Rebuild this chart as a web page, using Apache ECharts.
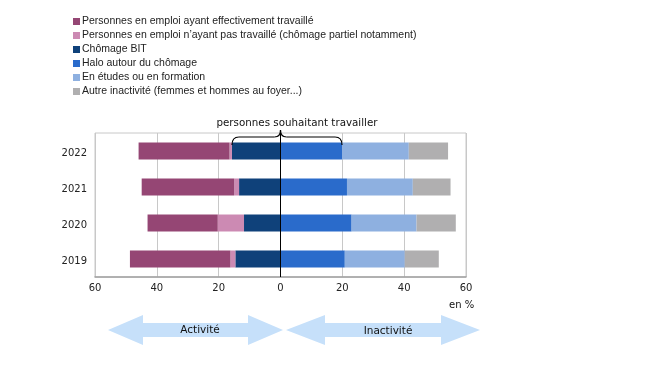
<!DOCTYPE html>
<html><head><meta charset="utf-8">
<script src="https://cdn.jsdelivr.net/npm/echarts@6/dist/echarts.min.js"></script>
<style>html,body{margin:0;padding:0;background:#fff}#c{width:650px;height:365px}</style>
</head><body><div id="c"></div>
<script>
const years = ['2019','2020','2021','2022'];
const travailles = [32.5, 22.7, 29.9, 29.4];
const nonTravailles = [1.6, 8.5, 1.6, 0.8];
const chomageBIT = [14.6, 11.8, 13.4, 15.7];
const halo = [20.8, 23.0, 21.5, 19.9];
const etudes = [19.4, 21.0, 21.3, 21.6];
const autre = [11.0, 12.7, 12.2, 12.7];
const xTicks = [-60, -40, -20, 0, 20, 40, 60];

const names = ['Personnes en emploi ayant effectivement travaillé',
  'Personnes en emploi n\u2019ayant pas travaillé (chômage partiel notamment)',
  'Chômage BIT','Halo autour du chômage','En études ou en formation',
  'Autre inactivité (femmes et hommes au foyer...)'];
const colors = ['#954674','#cc8ab3','#0f417a','#2a6bcb','#8eb0e0','#b0afb0'];

const chart = echarts.init(document.getElementById('c'), null, {renderer:'canvas'});
const neg = a => a.map(v => -v);
function bar(name, data, color, extra) {
  return Object.assign({name, type:'bar', stack:'s', data, barWidth:17,
    itemStyle:{color}, emphasis:{disabled:true}, animation:false}, extra||{});
}
const series = [
  bar(names[2], neg(chomageBIT), colors[2], {markLine:{silent:true, symbol:'none', label:{show:false},
      lineStyle:{color:'#000', width:1, type:'solid'}, data:[{xAxis:0}], animation:false}}),
  bar(names[1], neg(nonTravailles), colors[1]),
  bar(names[0], neg(travailles), colors[0]),
  bar(names[3], halo, colors[3]),
  bar(names[4], etudes, colors[4]),
  bar(names[5], autre, colors[5])
];

chart.setOption({
  animation:false,
  textStyle:{fontFamily:'DejaVu Sans'},
  legend:{orient:'vertical', left:68, top:11, itemWidth:7, itemHeight:7, itemGap:3,
    icon:'rect', data:names, selectedMode:false,
    textStyle:{fontFamily:'Liberation Sans', fontSize:10.5, color:'#222', padding:[0,0,0,-3]}},
  grid:{left:95, right:184, top:133, bottom:88, show:true, borderColor:'#c8c8c8', borderWidth:1},
  xAxis:{type:'value', min:-60, max:60, interval:20,
    axisLine:{show:true, onZero:false, lineStyle:{color:'#a0a0a0', width:1.5}},
    axisTick:{show:false},
    splitLine:{show:true, lineStyle:{color:'#c8c8c8', width:1}},
    axisLabel:{color:'#222', fontSize:10, margin:6, formatter:v => xTicks.includes(v) ? String(Math.abs(v)) : ''}},
  yAxis:{type:'category', data:years,
    axisLine:{show:false}, axisTick:{show:false},
    axisLabel:{color:'#222', fontSize:10, margin:8, formatter:'{a|{value}}',
      rich:{a:{fontSize:10, color:'#222', fontFamily:'DejaVu Sans', padding:[4,0,0,0]}}}},
  series
});

function draw() {
  const i = years.indexOf('2022');
  const pL = chart.convertToPixel({gridIndex:0}, [-chomageBIT[i], years[i]]);
  const pR = chart.convertToPixel({gridIndex:0}, [halo[i], years[i]]);
  const p0 = chart.convertToPixel({gridIndex:0}, [0, years[i]]);
  const x1 = pL[0], x2 = pR[0], xm = p0[0];
  const yb = 145, yh = 137, yp = 130;
  const st = {fill:null, stroke:'#000', lineWidth:1.2};
  const braceParts = [
    {type:'bezierCurve', shape:{x1:x1, y1:yb, cpx1:x1, cpy1:yh, x2:x1+7, y2:yh}},
    {type:'line', shape:{x1:x1+7, y1:yh, x2:xm-6, y2:yh}},
    {type:'bezierCurve', shape:{x1:xm-6, y1:yh, cpx1:xm, cpy1:yh, x2:xm, y2:yp}},
    {type:'bezierCurve', shape:{x1:xm, y1:yp, cpx1:xm, cpy1:yh, x2:xm+6, y2:yh}},
    {type:'line', shape:{x1:xm+6, y1:yh, x2:x2-7, y2:yh}},
    {type:'bezierCurve', shape:{x1:x2-7, y1:yh, cpx1:x2, cpy1:yh, x2:x2, y2:yb}}
  ].map(o => Object.assign(o, {style:st, silent:true, z:100}));
  const arrow = (xa, xb, head) => {
    const yc = 330, ht = 315, hb = 345, st = 323, sb = 337;
    return [[xa,yc],[xa+head,ht],[xa+head,st],[xb-head,st],[xb-head,ht],[xb,yc],[xb-head,hb],[xb-head,sb],[xa+head,sb],[xa+head,hb]];
  };
  chart.setOption({graphic:braceParts.concat([
    {type:'text', x:297, y:123, style:{text:'personnes souhaitant travailler', fontFamily:'DejaVu Sans', fontSize:10.3, fill:'#111', align:'center', verticalAlign:'middle'}},
    {type:'text', x:449, y:305, style:{text:'en %', fontFamily:'DejaVu Sans', fontSize:10, fill:'#111', align:'left', verticalAlign:'middle'}},
    {type:'polygon', shape:{points:arrow(108, 283, 35)}, style:{fill:'#c6e0fa'}, silent:true},
    {type:'polygon', shape:{points:arrow(286, 480, 39)}, style:{fill:'#c6e0fa'}, silent:true},
    {type:'text', x:200, y:330, style:{text:'Activité', fontFamily:'DejaVu Sans', fontSize:10.5, fill:'#111', align:'center', verticalAlign:'middle'}},
    {type:'text', x:388, y:331, style:{text:'Inactivité', fontFamily:'DejaVu Sans', fontSize:10.5, fill:'#111', align:'center', verticalAlign:'middle'}}
  ])});
}
draw();
</script></body></html>
